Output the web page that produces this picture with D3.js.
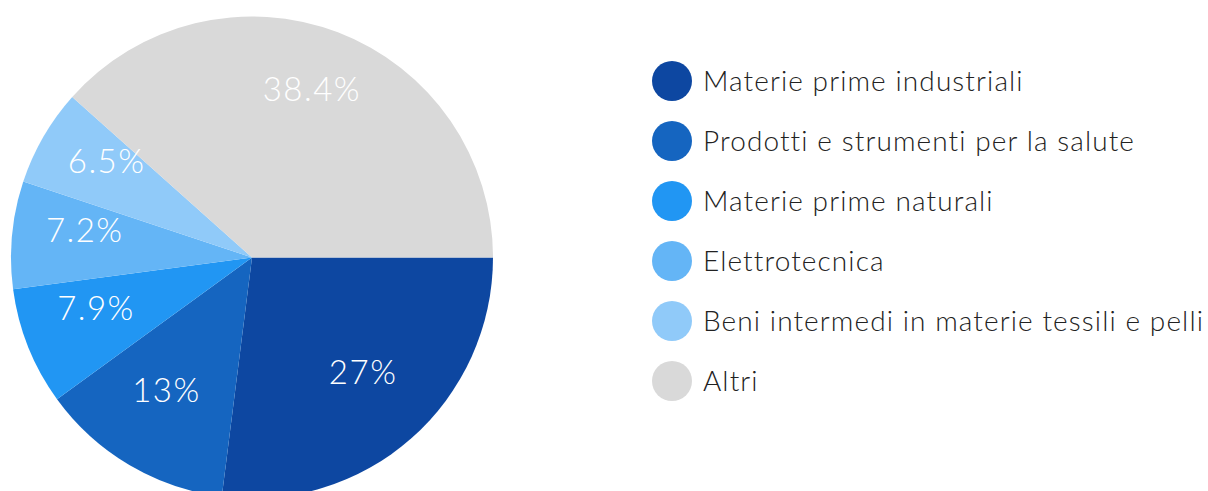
<!DOCTYPE html>
<html>
<head>
<meta charset="utf-8">
<script src="https://cdn.jsdelivr.net/npm/d3@7"></script>
<style>
  html, body { margin: 0; padding: 0; background: #ffffff; }
  svg { display: block; }
  text { font-family: "Lato", "Open Sans", sans-serif; }
</style>
</head>
<body>
<svg id="chart" width="1208" height="491"></svg>
<script>
// Export share by product group
const categories = [
  "Materie prime industriali",
  "Prodotti e strumenti per la salute",
  "Materie prime naturali",
  "Elettrotecnica",
  "Beni intermedi in materie tessili e pelli",
  "Altri"
];
const values = [27, 13, 7.9, 7.2, 6.5, 38.4];
const valueLabels = ["27%", "13%", "7.9%", "7.2%", "6.5%", "38.4%"];
const colors = ["#0D47A1", "#1565C0", "#2196F3", "#64B5F6", "#90CAF9", "#D9D9D9"];

const svg = d3.select("#chart");
const cx = 252, cy = 257.5, radius = 241;

const data = categories.map((c, i) => ({ name: c, value: values[i], label: valueLabels[i], color: colors[i] }));

// Slices start at 3 o'clock and run clockwise
const pie = d3.pie()
  .value(d => d.value)
  .sort(null)
  .startAngle(Math.PI / 2)
  .endAngle(Math.PI / 2 + 2 * Math.PI);

const arc = d3.arc().innerRadius(0).outerRadius(radius);
const labelArc = d3.arc().innerRadius(168).outerRadius(168);

const g = svg.append("g").attr("transform", `translate(${cx},${cy})`);
const arcs = pie(data);

g.selectAll("path.slice")
  .data(arcs)
  .join("path")
  .attr("class", "slice")
  .attr("d", arc)
  .attr("fill", d => d.data.color);

g.selectAll("text.value")
  .data(arcs)
  .join("text")
  .attr("class", "value")
  .attr("transform", d => `translate(${labelArc.centroid(d)})`)
  .attr("text-anchor", "middle")
  .attr("fill", "#ffffff")
  .attr("font-size", 33)
  .attr("font-weight", 300)
  .attr("letter-spacing", 1.5)
  .text(d => d.data.label);

// Legend
const legend = svg.append("g").attr("transform", "translate(672,81)");
const row = legend.selectAll("g.item")
  .data(data)
  .join("g")
  .attr("class", "item")
  .attr("transform", (d, i) => `translate(0,${i * 60})`);

row.append("circle")
  .attr("r", 20)
  .attr("fill", d => d.color);

row.append("text")
  .attr("x", 31)
  .attr("y", 10)
  .attr("fill", "#222222")
  .attr("font-size", 28)
  .attr("font-weight", 300)
  .attr("letter-spacing", 1.1)
  .text(d => d.name);
</script>
</body>
</html>
